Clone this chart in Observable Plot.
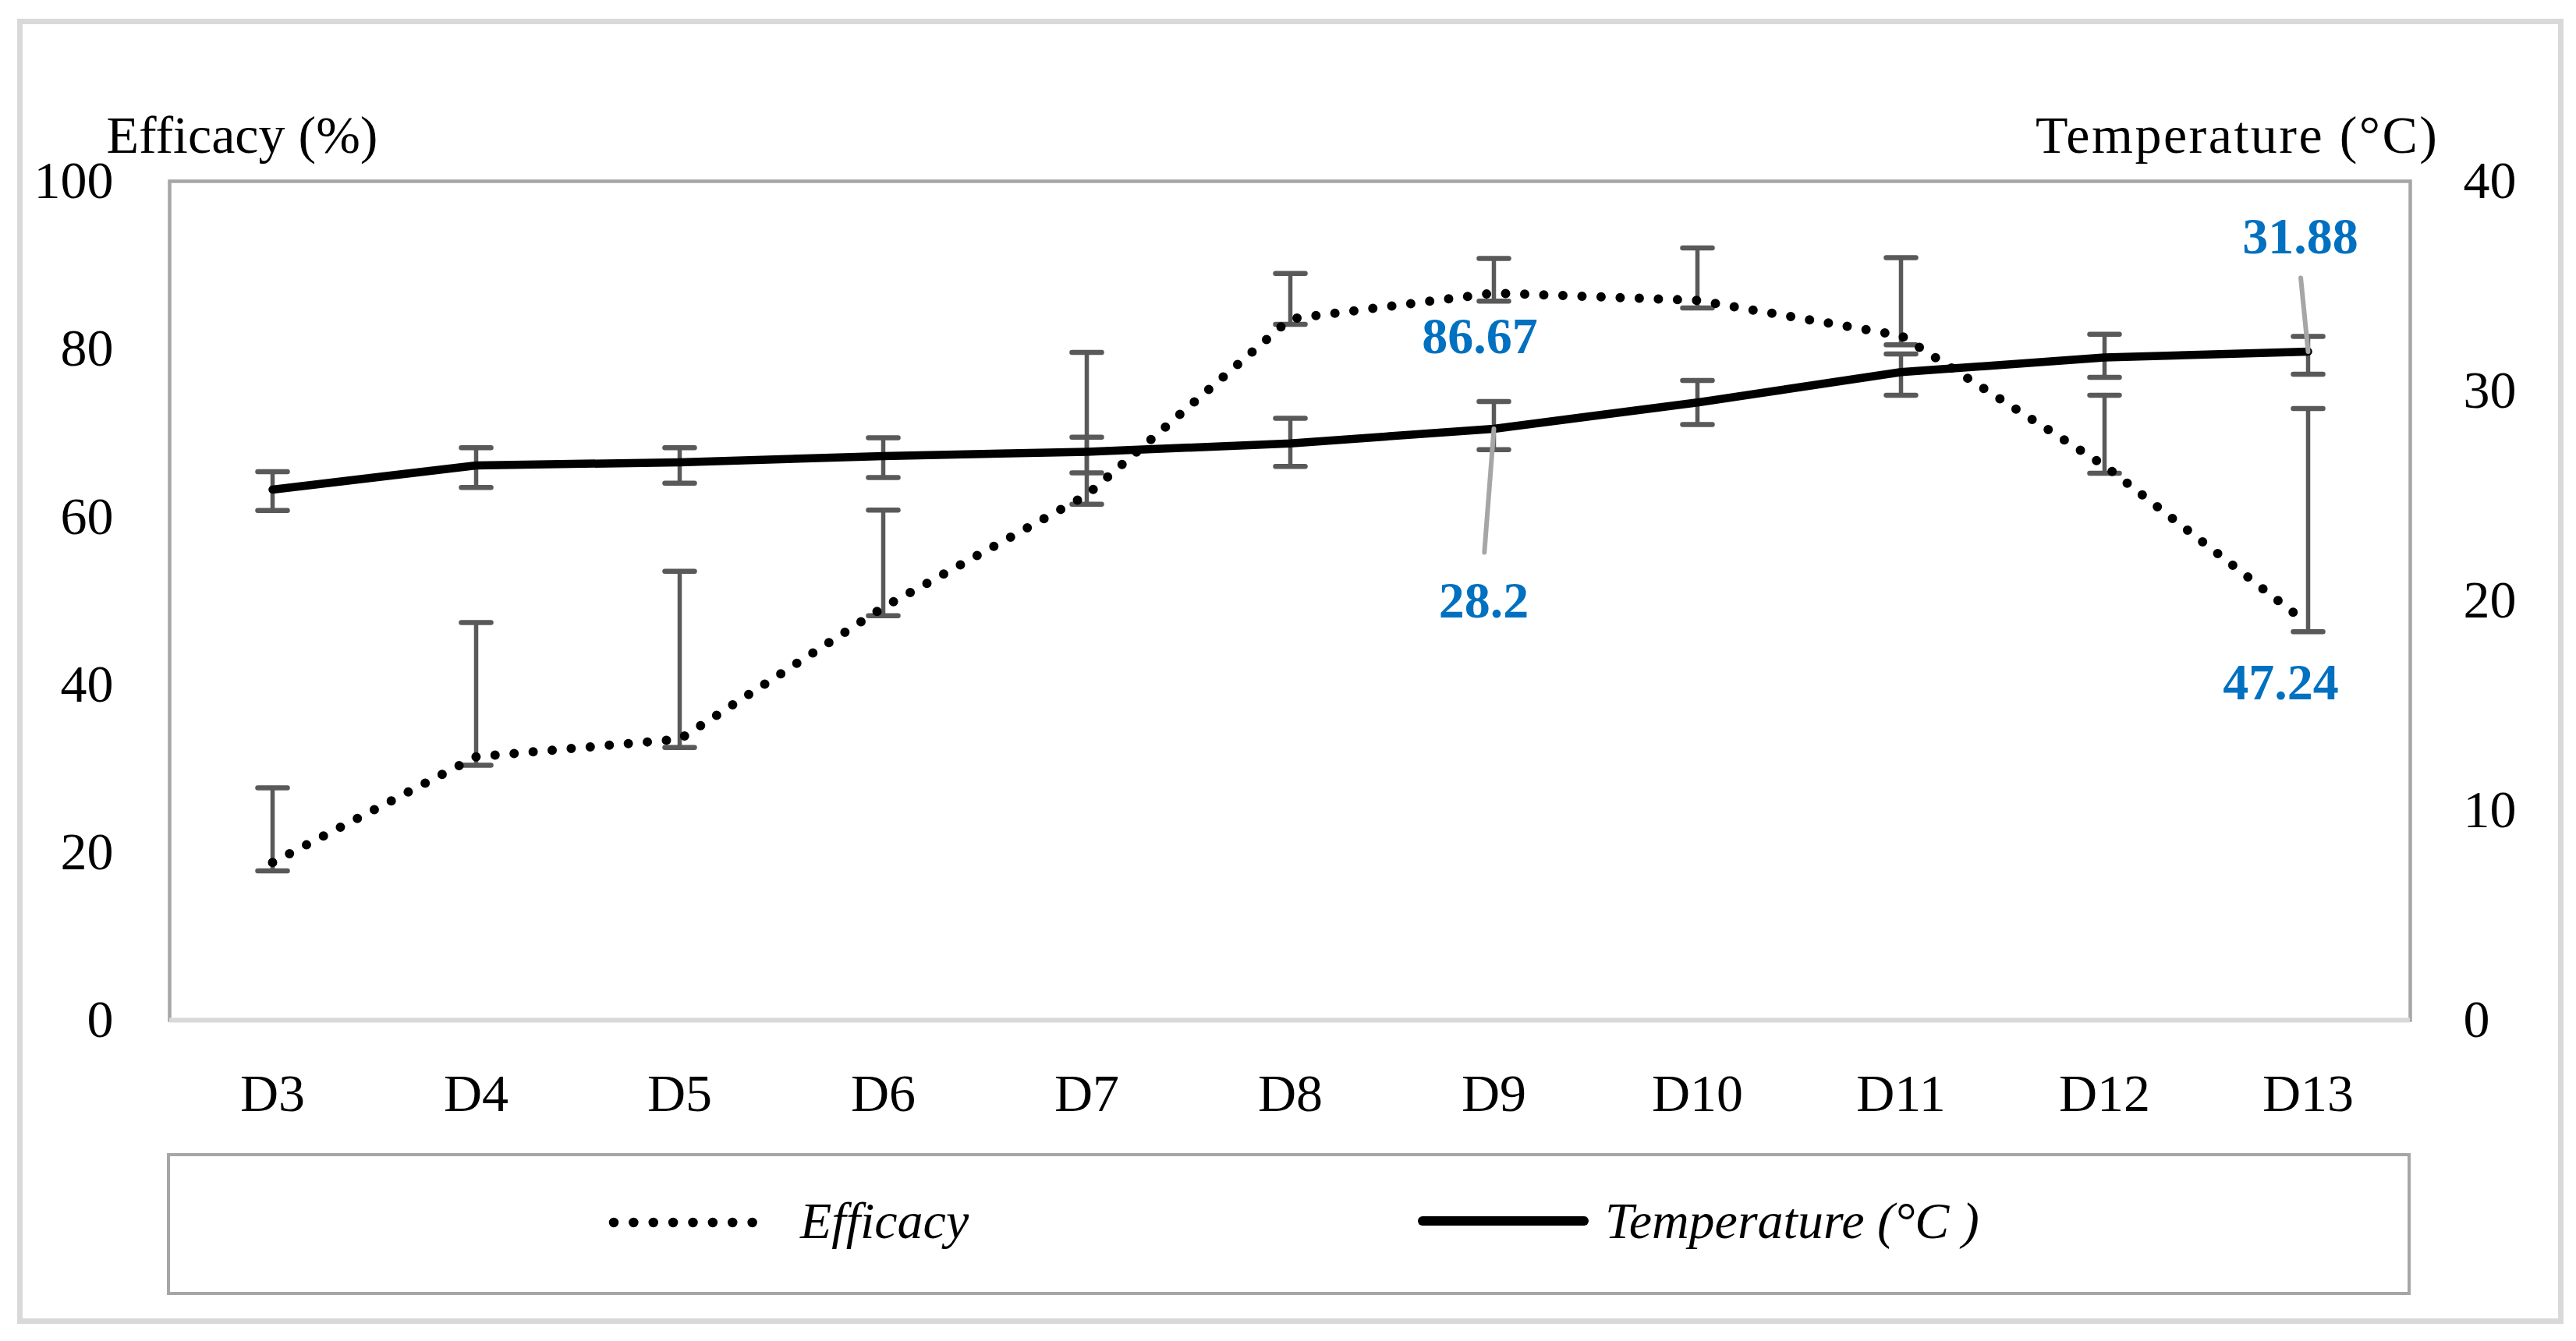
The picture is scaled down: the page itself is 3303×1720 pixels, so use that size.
<!DOCTYPE html>
<html>
<head>
<meta charset="utf-8">
<script src="https://cdn.jsdelivr.net/npm/d3@7"></script>
<script src="https://cdn.jsdelivr.net/npm/@observablehq/plot@0.6"></script>
<style>
html, body { margin: 0; padding: 0; background: #ffffff; }
#page { position: relative; width: 3303px; height: 1720px; overflow: hidden;
  font-family: "Palatino Linotype", "Book Antiqua", Palatino, "Liberation Serif", serif; }
#outer { position: absolute; left: 22px; top: 24px; width: 3265px; height: 1674px;
  border: 7px solid #d9d9d9; box-sizing: border-box; }
#chart { position: absolute; left: 0; top: 0; }
#legend { position: absolute; left: 214px; top: 1479px; width: 2877px; height: 182px;
  border: 4.5px solid #a6a6a6; box-sizing: border-box; }
#legend svg { position: absolute; left: -4.5px; top: -4.5px; overflow: visible; }
#legend text { font-family: "Palatino Linotype", "Book Antiqua", Palatino, "Liberation Serif", serif;
  font-style: italic; font-size: 66px; fill: #000; }
</style>
</head>
<body>
<div id="page">
  <div id="outer"></div>
  <div id="chart"></div>
  <div id="legend">
    <svg width="2877" height="182">
      <line x1="573" y1="89" x2="776" y2="89" stroke="#000" stroke-width="12.5" stroke-linecap="round" stroke-dasharray="0 25.375"></line>
      <text x="812" y="109">Efficacy</text>
      <line x1="1610" y1="87" x2="1817" y2="87" stroke="#000" stroke-width="12" stroke-linecap="round"></line>
      <text x="1844" y="109">Temperature (°C )</text>
    </svg>
  </div>
</div>
<script>
// ---- data ----
const days = ["D3", "D4", "D5", "D6", "D7", "D8", "D9", "D10", "D11", "D12", "D13"];
const efficacy = [18.8, 31.4, 33.5, 49.2, 62.6, 83.6, 86.67, 85.8, 81.6, 66.1, 47.24];
const efficacyLow = [17.8, 30.4, 32.5, 48.2, 61.5, 82.95, 85.7, 84.9, 80.5, 65.2, 46.3];
const efficacyHigh = [27.7, 47.4, 53.5, 60.8, 79.6, 89.0, 90.8, 92.05, 90.9, 74.5, 72.9];
const temperature = [25.3, 26.45, 26.6, 26.9, 27.1, 27.5, 28.2, 29.45, 30.9, 31.6, 31.88];
const temperatureLow = [24.3, 25.4, 25.6, 25.87, 26.1, 26.4, 27.2, 28.4, 29.8, 30.65, 30.8];
const temperatureHigh = [26.15, 27.3, 27.3, 27.77, 27.8, 28.7, 29.5, 30.5, 31.77, 32.7, 32.6];
const efficacyTicks = [0, 20, 40, 60, 80, 100];
const temperatureTicks = [0, 10, 20, 30, 40];
const efficacyLabelDays = ["D9", "D13"];
const temperatureLabelDays = ["D9", "D13"];

// secondary axis factor: 0–40 °C shares the 0–100 % range
const k = efficacyTicks[efficacyTicks.length - 1] / temperatureTicks[temperatureTicks.length - 1];

const rows = days.map((day, i) => ({
  day,
  eff: efficacy[i], effLo: efficacyLow[i], effHi: efficacyHigh[i],
  temp: temperature[i], tempY: temperature[i] * k,
  tempLo: temperatureLow[i] * k, tempHi: temperatureHigh[i] * k
}));
const row = (d) => rows.find((r) => r.day === d);

const FONT = '"Palatino Linotype", "Book Antiqua", Palatino, "Liberation Serif", serif';
const ERR = "#595959";
const BLUE = "#0070c0";
const LEADER = "#a6a6a6";
const lineShape = { draw(context, l) { context.moveTo(0, 0); context.lineTo(0, -l); } };
const cap = (y) => Plot.vector(rows, { x: "day", y, length: 38, rotate: 90, anchor: "middle", shape: lineShape,
  stroke: ERR, strokeWidth: 6.5 });

const chart = Plot.plot({
  width: 3303,
  height: 1470,
  marginLeft: 217,
  marginRight: 213,
  marginTop: 232,
  marginBottom: 162,
  x: { type: "point", domain: days, padding: 0.5 },
  y: { domain: [0, 100] },
  style: { fontFamily: FONT, fontSize: "68px", color: "#000", background: "transparent", overflow: "visible" },
  marks: [
    Plot.frame({ stroke: "#a6a6a6", strokeWidth: 4.5 }),
    Plot.ruleY([0], { stroke: "#d9d9d9", strokeWidth: 6 }),
    Plot.axisX({ tickSize: 0, tickPadding: 68, label: null, fontSize: 68 }),
    Plot.axisY({ anchor: "left", ticks: efficacyTicks, tickSize: 0, tickPadding: 72, label: null, fontSize: 68 }),
    Plot.axisY({ anchor: "right", ticks: temperatureTicks.map((t) => t * k), tickFormat: (d) => String(d / k),
      tickSize: 0, tickPadding: 68, label: null, fontSize: 68 }),
    Plot.text(["Efficacy (%)"], { text: (d) => d, frameAnchor: "top-left", textAnchor: "start", lineAnchor: "middle",
      dx: -81, dy: -58, fontSize: 68 }),
    Plot.text(["Temperature (°C)"], { text: (d) => d, frameAnchor: "top-right", textAnchor: "end", lineAnchor: "middle",
      dx: 37, dy: -58, fontSize: 68 }),
    // error bars – efficacy
    Plot.ruleX(rows, { x: "day", y1: "effLo", y2: "effHi", stroke: ERR, strokeWidth: 5.5 }),
    cap("effLo"),
    cap("effHi"),
    // error bars – temperature
    Plot.ruleX(rows, { x: "day", y1: "tempLo", y2: "tempHi", stroke: ERR, strokeWidth: 5.5 }),
    cap("tempLo"),
    cap("tempHi"),
    // series
    Plot.line(rows, { x: "day", y: "tempY", stroke: "#000", strokeWidth: 10.5, strokeLinecap: "round", strokeLinejoin: "round" }),
    Plot.line(rows, { x: "day", y: "eff", stroke: "#000", strokeWidth: 12, strokeDasharray: "0 24.5", strokeLinecap: "round" }),
    // leader lines for temperature labels
    Plot.vector([row("D9")], { x: "day", y: "tempY", length: 159, rotate: 184.4, anchor: "start", shape: lineShape,
      stroke: LEADER, strokeWidth: 6 }),
    Plot.vector([row("D13")], { x: "day", y: "tempY", length: 95, rotate: 354.3, anchor: "start", shape: lineShape,
      stroke: LEADER, strokeWidth: 6 }),
    // data labels
    Plot.text([row(efficacyLabelDays[0])], { x: "day", y: "eff", text: (d) => String(d.eff), fill: BLUE, fontWeight: "bold",
      fontSize: 66, lineAnchor: "middle", dx: -18, dy: 56 }),
    Plot.text([row(efficacyLabelDays[1])], { x: "day", y: "eff", text: (d) => String(d.eff), fill: BLUE, fontWeight: "bold",
      fontSize: 66, lineAnchor: "middle", dx: -35, dy: 76 }),
    Plot.text([row(temperatureLabelDays[0])], { x: "day", y: "tempY", text: (d) => String(d.temp), fill: BLUE, fontWeight: "bold",
      fontSize: 66, lineAnchor: "middle", dx: -13, dy: 221 }),
    Plot.text([row(temperatureLabelDays[1])], { x: "day", y: "tempY", text: (d) => String(d.temp), fill: BLUE, fontWeight: "bold",
      fontSize: 66, lineAnchor: "middle", dx: -10, dy: -147 })
  ]
});
// the reference face is slightly wider than the fallback serif for this title
d3.select(chart).selectAll("text")
  .filter(function () { return this.textContent === "Temperature (°C)"; })
  .style("letter-spacing", "2.5px");
document.getElementById("chart").appendChild(chart);
</script>
</body>
</html>
